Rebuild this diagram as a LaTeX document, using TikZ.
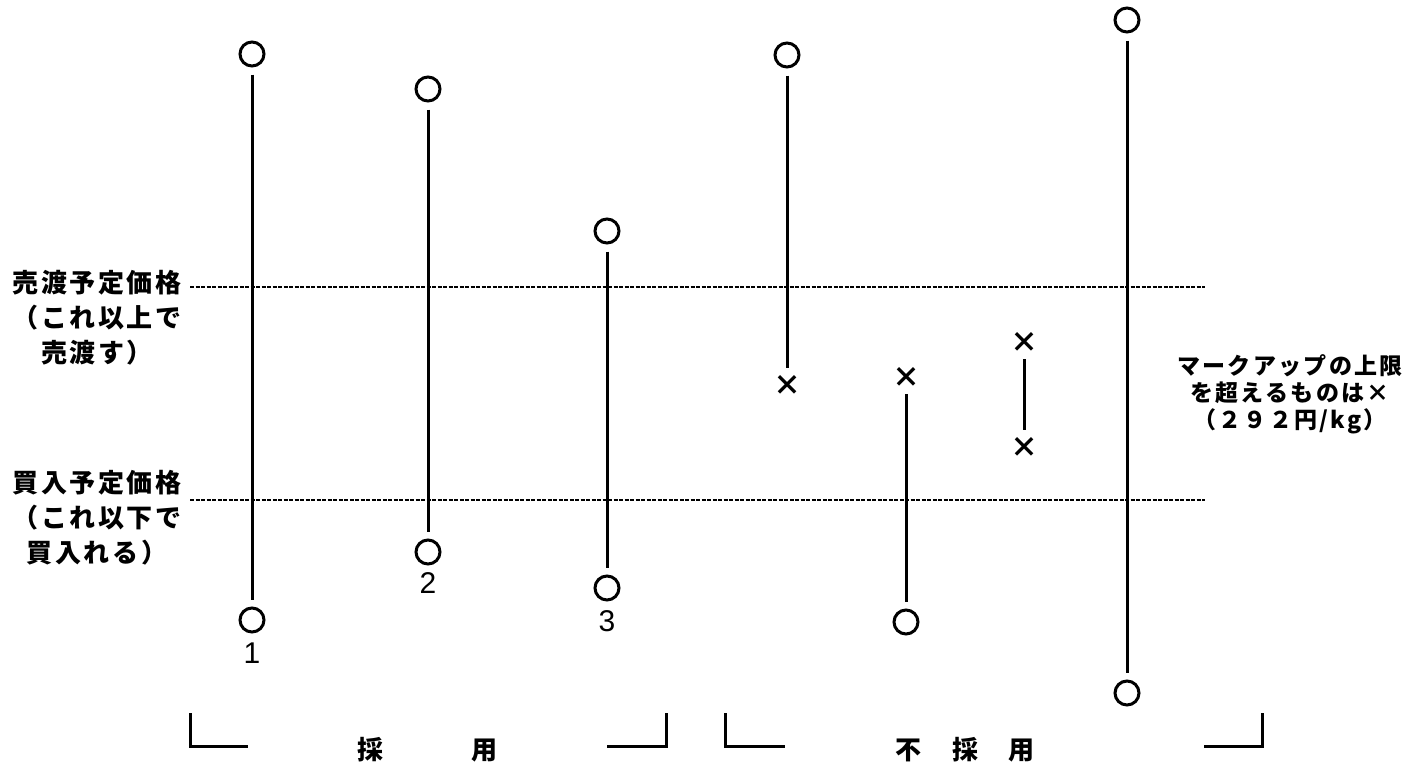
\documentclass[tikz,border=0pt]{standalone}
\usepackage{fontspec}
\setmainfont{Noto Sans CJK JP}
\newfontfamily\arialfont{Liberation Sans}
\usetikzlibrary{positioning}

\begin{document}
\begin{tikzpicture}[
            x=1pt, y=-1pt,
            every node/.style={font=\bfseries},
            maru/.style={circle,draw,line width=3pt,minimum size=24pt,inner sep=0pt},
            batsu/.style={inner sep=0pt,font=\bfseries\fontsize{28}{28}\selectfont},
            bango/.style={font=\fontsize{30}{30}\selectfont\arialfont},
            bar/.style={line width=3pt,shorten <=7pt,shorten >=7pt},
            kijun/.style={line width=1.6pt,dash pattern=on 4pt off 1.5pt},
            kakko/.style={line width=3pt},
            hidari/.style={align=center,font=\bfseries\fontsize{26}{35}\selectfont\addfontfeature{LetterSpace=10}},
            migi/.style={align=center,font=\bfseries\fontsize{23}{27}\selectfont\addfontfeature{LetterSpace=10}},
            soko/.style={font=\bfseries\fontsize{26}{26}\selectfont},
            ]
            \useasboundingbox (0,0) rectangle (1423,764);

            % 採用
            \node[maru] (a1) at (252,54) {};
            \node[maru] (b1) at (252,620) {};
            \node[bango, below=6pt of b1] (n1) {1};
            \node[maru] (a2) at (428,89) {};
            \node[maru] (b2) at (428,552) {};
            \node[bango, below=4pt of b2] (n2) {2};
            \node[maru] (a3) at (607,231) {};
            \node[maru] (b3) at (607,588) {};
            \node[bango, below=6pt of b3] (n3) {3};

            % 不採用
            \node[maru] (a4) at (787,55) {};
            \node[batsu] (b4) at (787,385) {×};
            \node[batsu] (a5) at (906,377) {×};
            \node[maru] (b5) at (906,622) {};
            \node[batsu] (a6) at (1024,342) {×};
            \node[batsu] (b6) at (1024,447) {×};
            \node[maru] (a7) at (1127,20) {};
            \node[maru] (b7) at (1127,693) {};

            \foreach \i in {1,...,7}
                \draw[bar] (a\i) -- (b\i);

            % 予定価格
            \node[hidari, anchor=north] (uri) at (97,267) {売渡予定価格\\（これ以上で\\売渡す）};
            \node[hidari, anchor=north] (kai) at (97,467) {買入予定価格\\（これ以下で\\買入れる）};
            \coordinate (uriL) at (190,287);
            \coordinate (uriR) at (1205,287);
            \coordinate (kaiL) at (190,500);
            \coordinate (kaiR) at (1205,500);
            \draw[kijun] (uriL) -- (uriR);
            \draw[kijun] (kaiL) -- (kaiR);

            \node[migi] (jogen) at (1290,394) {マークアップの上限\\を超えるものは×\\（２９２円/kg）};

            % 括弧
            \draw[kakko] (190,713) |- (248,746);
            \draw[kakko] (607,746) -| (666,713);
            \draw[kakko] (725,713) |- (785,746);
            \draw[kakko] (1204,746) -| (1262,713);
            \node[soko] (saiyo) at (427,750) {採\hspace{88pt}用};
            \node[soko] (fusaiyo) at (965,750) {不\hspace{31pt}採\hspace{31pt}用};
\end{tikzpicture}
\end{document}
